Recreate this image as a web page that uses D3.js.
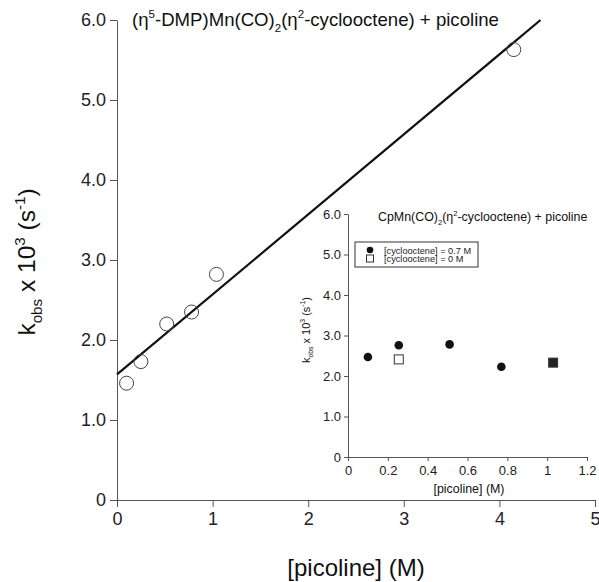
<!DOCTYPE html>
<html lang="en">
<head>
    <meta charset="UTF-8">
    <title>kobs vs picoline</title>
    <script src="https://d3js.org/d3.v7.min.js"></script>
    <style>
        body {
            margin: 0;
            background-color: white;
            font-family: "Liberation Sans", Arial, sans-serif;
        }
        .axis path, .axis line {
            stroke: #555;
        }
        .axis text {
            fill: #222;
            font-family: "Liberation Sans", Arial, sans-serif;
        }
    </style>
</head>
<body>
    <div id="chart"></div>
    <script>
        // Main plot data: (eta5-DMP)Mn(CO)2(eta2-cyclooctene) + picoline
        const mainConc = [0.10, 0.25, 0.52, 0.78, 1.04, 4.15];
        const mainKobs = [1.46, 1.73, 2.20, 2.35, 2.82, 5.63];
        // fitted line end points
        const fitConc = [0, 4.43];
        const fitKobs = [1.57, 6.0];
        const mainXTicks = [0, 1, 2, 3, 4, 5];
        const mainYTicks = [0, 1, 2, 3, 4, 5, 6];

        // Inset data: CpMn(CO)2(eta2-cyclooctene) + picoline
        const insetConc07 = [0.10, 0.255, 0.51, 0.77, 1.03];
        const insetKobs07 = [2.47, 2.76, 2.78, 2.23, 2.33];
        const insetConc0 = [0.255, 1.03];
        const insetKobs0 = [2.41, 2.33];
        const insetXTicks = [0, 0.2, 0.4, 0.6, 0.8, 1.0, 1.2];
        const insetYTicks = [0, 1, 2, 3, 4, 5, 6];
        const legendLabels = ["[cyclooctene] = 0.7 M", "[cyclooctene] = 0 M"];

        const svg = d3.select("#chart")
          .append("svg")
            .attr("width", 599)
            .attr("height", 582);

        const yFmt = d => d === 0 ? "0" : d3.format(".1f")(d);

        // helper for text with super/subscripts
        function richText(sel, parts, size) {
            parts.forEach(p => {
                const t = sel.append("tspan").text(p[0]);
                if (p[1] === "sup") {
                    t.attr("font-size", size * 0.62).attr("baseline-shift", size * 0.42);
                } else if (p[1] === "sub") {
                    t.attr("font-size", size * 0.62).attr("baseline-shift", -size * 0.3);
                }
            });
            return sel;
        }

        // ---------- main plot ----------
        const x = d3.scaleLinear().domain([0, 5]).range([117, 595]);
        const y = d3.scaleLinear().domain([0, 6]).range([500, 20]);

        svg.append("g")
            .attr("class", "axis")
            .attr("transform", "translate(0,500)")
            .call(d3.axisBottom(x).tickValues(mainXTicks).tickSize(7).tickSizeOuter(0).tickPadding(5).tickFormat(d3.format("d")))
            .selectAll("text").attr("font-size", 18);

        svg.append("g")
            .attr("class", "axis")
            .attr("transform", "translate(117,0)")
            .call(d3.axisLeft(y).tickValues(mainYTicks).tickSize(7).tickSizeOuter(0).tickPadding(4).tickFormat(yFmt))
            .selectAll("text").attr("font-size", 18);

        svg.append("path")
            .datum(fitConc.map((c, i) => [c, fitKobs[i]]))
            .attr("fill", "none")
            .attr("stroke", "#111")
            .attr("stroke-width", 2.2)
            .attr("d", d3.line().x(d => x(d[0])).y(d => y(d[1])));

        svg.selectAll(".mainDot")
            .data(mainConc.map((c, i) => [c, mainKobs[i]]))
            .enter()
            .append("circle")
            .attr("class", "mainDot")
            .attr("cx", d => x(d[0]))
            .attr("cy", d => y(d[1]))
            .attr("r", 7)
            .attr("fill", "none")
            .attr("stroke", "#444")
            .attr("stroke-width", 1);

        richText(svg.append("text").attr("x", 132).attr("y", 26).attr("font-size", 18.6).attr("fill", "#111"),
            [["(η"], ["5", "sup"], ["-DMP)Mn(CO)"], ["2", "sub"], ["(η"], ["2", "sup"], ["-cyclooctene) + picoline"]], 18.6);

        richText(svg.append("text")
                .attr("transform", "translate(35,262) rotate(-90)")
                .attr("text-anchor", "middle")
                .attr("font-size", 24.5)
                .attr("fill", "#111"),
            [["k"], ["obs", "sub"], [" x 10"], ["3", "sup"], [" (s"], ["-1", "sup"], [")"]], 24.5);

        svg.append("text")
            .attr("x", 356)
            .attr("y", 576)
            .attr("text-anchor", "middle")
            .attr("font-size", 24)
            .attr("fill", "#111")
            .text("[picoline] (M)");

        // ---------- inset ----------
        const xi = d3.scaleLinear().domain([0, 1.2]).range([348, 587]);
        const yi = d3.scaleLinear().domain([0, 6]).range([457, 214]);

        svg.append("g")
            .attr("class", "axis")
            .attr("transform", "translate(0,457)")
            .call(d3.axisBottom(xi).tickValues(insetXTicks).tickSize(4).tickSizeOuter(0).tickPadding(5).tickFormat(d => d3.format("")(+d.toFixed(1))))
            .selectAll("text").attr("font-size", 13);

        svg.append("g")
            .attr("class", "axis")
            .attr("transform", "translate(348,0)")
            .call(d3.axisLeft(yi).tickValues(insetYTicks).tickSize(4).tickSizeOuter(0).tickPadding(3).tickFormat(yFmt))
            .selectAll("text").attr("font-size", 13);

        svg.selectAll(".insetDot")
            .data(insetConc07.map((c, i) => [c, insetKobs07[i]]))
            .enter()
            .append("circle")
            .attr("class", "insetDot")
            .attr("cx", d => xi(d[0]))
            .attr("cy", d => yi(d[1]))
            .attr("r", 4.3)
            .attr("fill", "#111");

        // where both series coincide the marker shows as a solid square
        svg.selectAll(".insetSq")
            .data(insetConc0.map((c, i) => [c, insetKobs0[i]]))
            .enter()
            .append("rect")
            .attr("class", "insetSq")
            .attr("x", d => xi(d[0]) - 4.5)
            .attr("y", d => yi(d[1]) - 4.5)
            .attr("width", 9)
            .attr("height", 9)
            .attr("fill", (d, i) => insetConc07.some((c, j) => c === d[0] && Math.abs(insetKobs07[j] - d[1]) < 0.1) ? "#222" : "white")
            .attr("stroke", "#333")
            .attr("stroke-width", 1);

        richText(svg.append("text").attr("x", 378).attr("y", 221).attr("font-size", 12.4).attr("fill", "#111"),
            [["CpMn(CO)"], ["2", "sub"], ["(η"], ["2", "sup"], ["-cyclooctene) + picoline"]], 12.4);

        richText(svg.append("text")
                .attr("transform", "translate(310,330) rotate(-90)")
                .attr("text-anchor", "middle")
                .attr("font-size", 11)
                .attr("fill", "#111"),
            [["k"], ["obs", "sub"], [" x 10"], ["3", "sup"], [" (s"], ["-1", "sup"], [")"]], 11);

        svg.append("text")
            .attr("x", 469)
            .attr("y", 493)
            .attr("text-anchor", "middle")
            .attr("font-size", 12.4)
            .attr("fill", "#111")
            .text("[picoline] (M)");

        // legend
        const legend = svg.append("g").attr("transform", "translate(355,242)");
        legend.append("rect")
            .attr("width", 123)
            .attr("height", 25)
            .attr("fill", "white")
            .attr("stroke", "#333")
            .attr("stroke-width", 1);
        legend.append("circle").attr("cx", 15).attr("cy", 8).attr("r", 3.3).attr("fill", "#111");
        legend.append("rect").attr("x", 11.5).attr("y", 13).attr("width", 7).attr("height", 7)
            .attr("fill", "white").attr("stroke", "#333");
        legend.selectAll(".legText")
            .data(legendLabels)
            .enter()
            .append("text")
            .attr("class", "legText")
            .attr("x", 29)
            .attr("y", (d, i) => 11.5 + i * 8.5)
            .attr("font-size", 9.2)
            .attr("fill", "#222")
            .text(d => d);
    </script>
</body>
</html>
